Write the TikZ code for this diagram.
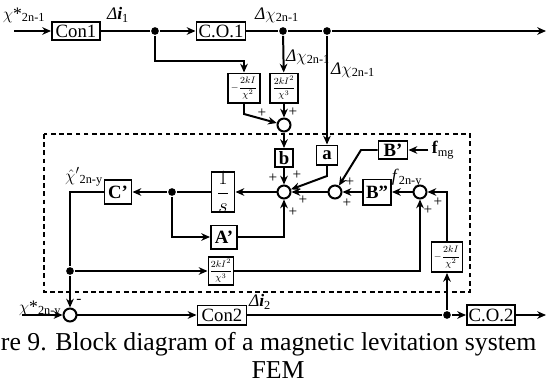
\documentclass[tikz,border=0pt]{standalone}
\usepackage{fontspec}
\setmainfont{Liberation Serif}
\usetikzlibrary{arrows.meta}

\begin{document}
\begin{tikzpicture}[x=0.03cm, y=-0.03cm, line width=1.7pt, >={Stealth[length=7.5pt,width=6.5pt]}]
    \tikzset{
        block/.style={draw, inner sep=0pt, font=\fontsize{16}{18}\selectfont},
        gain/.style={draw, inner sep=0pt, font=\fontsize{8.5}{9}\selectfont},
        sum/.style={draw, circle, minimum size=0.39cm, inner sep=0pt},
        dot/.style={fill, circle, minimum size=0.23cm, inner sep=0pt},
        lbl/.style={inner sep=0pt, font=\fontsize{15}{17}\selectfont},
        sgn/.style={inner sep=0pt, font=\fontsize{13}{14}\selectfont},
        arc/.style={->}
    }
    \useasboundingbox (0,0) rectangle (547,383);

    \draw[dash pattern=on 4pt off 3pt] (44,134) rectangle (470,292);

    % top row
    \coordinate (in1) at (14,31);
    \draw node[block, minimum width=1.44cm, minimum height=0.54cm] (con1) at (76,31) {Con1};
    \draw node[dot] (d1) at (155,31) {};
    \draw node[block, minimum width=1.47cm, minimum height=0.54cm] (co1) at (221,31) {C.O.1};
    \draw node[dot] (d2) at (283,31) {};
    \draw node[dot] (d3) at (327,31) {};
    \coordinate (out1) at (546,31);
    \coordinate (k1) at (244,61);
    \draw node[gain, minimum width=0.96cm, minimum height=0.87cm] (g1) at (244,88) {$\displaystyle -\frac{2kI}{\chi^{2}}$};
    \draw node[gain, minimum width=0.84cm, minimum height=0.87cm] (g2) at (284,88) {$\displaystyle \frac{2kI^{2}}{\chi^{3}}$};
    \coordinate (k2) at (244,114);
    \draw node[sum] (s1) at (284,125) {};

    % observer
    \draw node[block, minimum width=0.54cm, minimum height=0.54cm] (b) at (284,158) {\textbf{b}};
    \draw node[block, minimum width=0.63cm, minimum height=0.57cm] (a) at (327,155) {\textbf{a}};
    \coordinate (k3) at (327,176);
    \draw node[sum] (s2) at (284,192) {};
    \draw node[sum] (s3) at (335,192) {};
    \draw node[block, minimum width=0.87cm, minimum height=0.54cm] (bp) at (393,150) {\textbf{B'}};
    \draw node[lbl, inner sep=2pt] (fmg) at (443,150) {\textbf{f}\textsubscript{mg}};
    \coordinate (k4) at (361,150);
    \draw node[block, minimum width=0.84cm, minimum height=0.75cm] (bpp) at (377,192) {\textbf{B''}};
    \draw node[sum] (s4) at (420,192) {};
    \coordinate (k5) at (447,192);
    \draw node[gain, minimum width=0.93cm, minimum height=0.9cm] (g3) at (447,257) {$\displaystyle -\frac{2kI}{\chi^{2}}$};
    \draw node[block, minimum width=0.69cm, minimum height=1.17cm] (inv) at (223,192) {$\displaystyle\frac{1}{s}$};
    \draw node[dot] (d4) at (172,192) {};
    \draw node[block, minimum width=0.81cm, minimum height=0.72cm] (cp) at (118,192) {\textbf{C'}};
    \draw node[block, minimum width=0.78cm, minimum height=0.69cm] (ap) at (224,237) {\textbf{A'}};
    \draw node[dot] (d5) at (70,271) {};
    \draw node[gain, minimum width=0.75cm, minimum height=0.84cm] (g4) at (221,271) {$\displaystyle \frac{2kI^{2}}{\chi^{3}}$};

    % bottom row
    \coordinate (in2) at (22,315);
    \draw node[sum] (s5) at (70,315) {};
    \draw node[block, minimum width=1.47cm, minimum height=0.57cm] (con2) at (222,315) {Con2};
    \draw node[dot] (d7) at (447,315) {};
    \draw node[block, minimum width=1.44cm, minimum height=0.6cm] (co2) at (491,315) {C.O.2};
    \coordinate (out2) at (546,315);

    \foreach \x/\y in {%
        in1/con1, d1/co1, d3/out1, d2/g2, g2/s1, d3/a, s1/b, b/s2, s3/s2,%
        bpp/s3, s4/bpp, fmg/bp, s2/inv, d4/cp, d5/g4, d7/g3, in2/s5,%
        d5/s5, s5/con2, d7/co2, co2/out2%
    }{
    \draw (\x) edge[arc] (\y);
    }
    \draw (con1) -- (d1);
    \draw (co1) -- (d2) -- (d3);
    \draw (inv) -- (d4);
    \draw (con2) -- (d7);
    \draw (cp) -| (d5);
    \draw[arc] (d1) |- (k1) -- (g1);
    \draw[arc] (g1) -- (k2) -- (s1);
    \draw[arc] (a) -- (k3) -- (s2);
    \draw[arc] (bp) -- (k4) -- (s3);
    \draw[arc] (g3) -- (k5) -- (s4);
    \draw[arc] (g4) -| (s4);
    \draw[arc] (d4) |- (ap);
    \draw[arc] (ap) -| (s2);

    % labels
    \draw node[lbl] (lx1) at (24,15) {$\chi$*\textsubscript{2n-1}};
    \draw node[lbl] (li1) at (118,15) {\textit{Δ\textbf{i}}\textsubscript{1}};
    \draw node[lbl] (lc1) at (277,15) {\textit{Δ}$\chi$\textsubscript{2n-1}};
    \draw node[lbl] (lc2) at (308,57) {\textit{Δ}$\chi$\textsubscript{2n-1}};
    \draw node[lbl] (lc3) at (353,70) {\textit{Δ}$\chi$\textsubscript{2n-1}};
    \draw node[lbl] (lhat) at (84,177) {${\hat{\chi}}'$\textsubscript{2n-y}};
    \draw node[lbl] (lf) at (407,178) {\textit{f}\textsubscript{2n-y}};
    \draw node[lbl] (lx2) at (40,309) {$\chi$*\textsubscript{2n-y}};
    \draw node[lbl] (li2) at (260,302) {\textit{Δ\textbf{i}}\textsubscript{2}};

    % signs
    \foreach \p in {(262,113), (293,112), (273,178), (297,175), (303,200),%
        (293,212), (350,182), (347,203), (438,202), (428,210)}{
    \draw node[sgn] at \p {+};
    }
    \draw node[sgn] (neg) at (79,301) {-};

    % caption
    \draw node[inner sep=0pt, anchor=base west, font=\fontsize{22}{24}\selectfont] (cap1) at (0,350) {re 9. Block diagram of a magnetic levitation system};
    \draw node[inner sep=0pt, anchor=base, font=\fontsize{22}{24}\selectfont] (cap2) at (278,378) {FEM};
\end{tikzpicture}
\end{document}
